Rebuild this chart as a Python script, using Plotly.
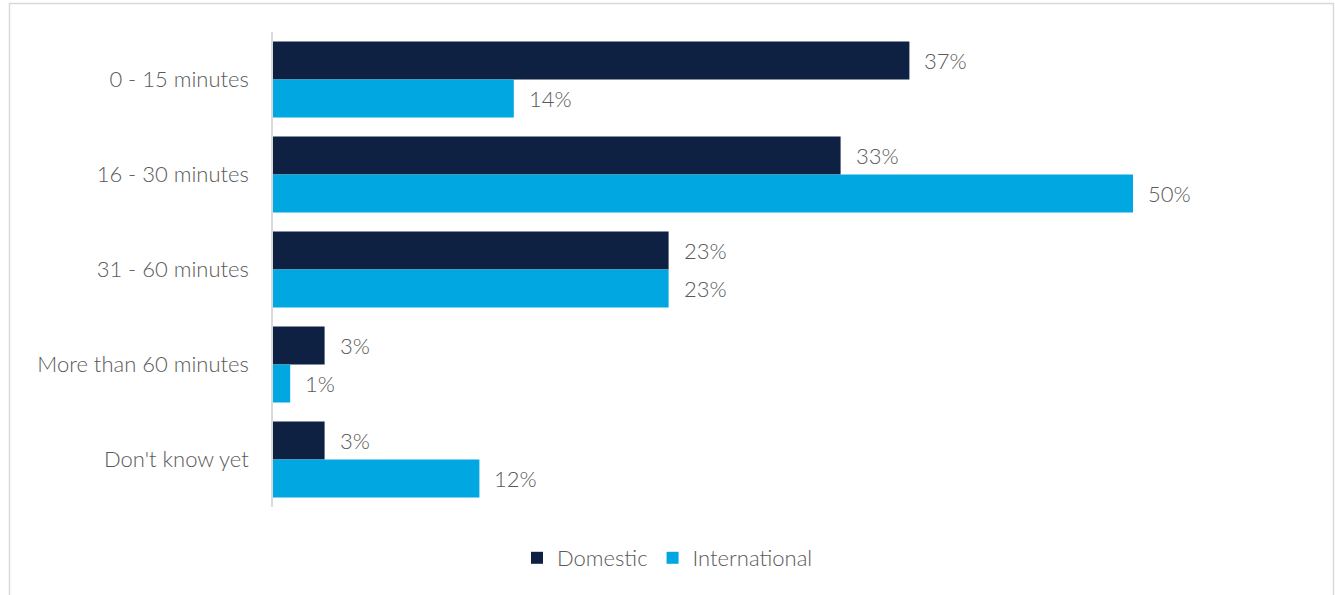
import plotly.graph_objects as go

categories = ["0 - 15 minutes", "16 - 30 minutes", "31 - 60 minutes",
              "More than 60 minutes", "Don't know yet"]
domestic = [37, 33, 23, 3, 3]
international = [14, 50, 23, 1, 12]

NAVY = "#0F2142"
CYAN = "#00A7E1"
TEXT = "#595959"
FONT = "Lato"
SIZE = 22
WEIGHT = 300

fig = go.Figure()
fig.add_trace(go.Bar(name="Domestic", y=categories, x=domestic,
                     orientation="h", marker=dict(color=NAVY, line=dict(width=0))))
fig.add_trace(go.Bar(name="International", y=categories, x=international,
                     orientation="h", marker=dict(color=CYAN, line=dict(width=0))))

# value labels just past the end of each bar
annotations = []
for i, (d, n) in enumerate(zip(domestic, international)):
    for val, off in ((d, -0.2), (n, 0.2)):
        annotations.append(dict(
            x=val, y=i + off, xref="x", yref="y", text=f"{val}%",
            showarrow=False, xanchor="left", yanchor="middle", xshift=13,
            font=dict(family=FONT, size=SIZE, color=TEXT, weight=WEIGHT)))

# thin frame around the chart area
plot_l, plot_r, plot_t, plot_b = 273, 1305, 32, 507
W, H = plot_r - plot_l, plot_b - plot_t
def px_x(p):
    return (p - plot_l) / W
def px_y(p):
    return (plot_b - p) / H

fig.update_layout(
    width=1335, height=595,
    margin=dict(l=plot_l, r=1335 - plot_r, t=plot_t, b=595 - plot_b),
    paper_bgcolor="white", plot_bgcolor="white",
    barmode="group", bargap=0.2, bargroupgap=0,
    font=dict(family=FONT, size=SIZE, color=TEXT, weight=WEIGHT),
    xaxis=dict(range=[0, 60], showgrid=False, zeroline=False,
               showticklabels=False, showline=False),
    yaxis=dict(autorange="reversed", showgrid=False, zeroline=False,
               showline=True, linecolor="#D9D9D9", linewidth=1.5,
               ticks="", ticklabelstandoff=18,
               tickfont=dict(family=FONT, size=SIZE, color=TEXT, weight=WEIGHT)),
    legend=dict(orientation="h", xref="container", yref="container",
                x=0.5, xanchor="center", y=(595 - 558) / 595, yanchor="middle",
                font=dict(family=FONT, size=SIZE, color=TEXT, weight=WEIGHT),
                itemwidth=30, traceorder="normal"),
    annotations=annotations,
    shapes=[dict(type="rect", xref="paper", yref="paper",
                 x0=px_x(9.5), x1=px_x(1333.5), y0=px_y(600), y1=px_y(3.5),
                 line=dict(color="#D9D9D9", width=1.5), layer="below")],
)

fig.write_html("out.html")
